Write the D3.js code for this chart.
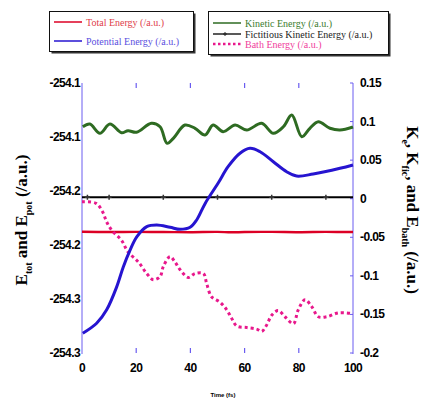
<!DOCTYPE html>
<html><head><meta charset="utf-8">
<script src="https://cdn.jsdelivr.net/npm/d3@7"></script>
<style>body{margin:0;background:#fff}svg{display:block}</style>
</head><body>
<svg id="c" width="421" height="401"></svg>
<script>
// ---- data ----
const xTicks = [0, 20, 40, 60, 80, 100];
const leftTicks = [-254.10, -254.14, -254.18, -254.22, -254.26, -254.30];
const leftTickLabels = ["-254.1", "-254.1", "-254.2", "-254.2", "-254.3", "-254.3"];
const rightTicks = [0.15, 0.1, 0.05, 0, -0.05, -0.1, -0.15, -0.2];
const rightTickLabels = ["0.15", "0.1", "0.05", "0", "-0.05", "-0.1", "-0.15", "-0.2"];

const totalT = [0, 10, 20, 30, 40, 50, 55, 60, 70, 80, 90, 100];
const totalE = [-254.2102, -254.2104, -254.2103, -254.2104, -254.2105, -254.2103, -254.2106, -254.2104, -254.2103, -254.2105, -254.2103, -254.2104];

const potT = [0.3, 5.4, 9.1, 12.8, 15.2, 17.7, 20.2, 23.9, 27.6, 32.5, 36.2, 39.9, 42.3, 45.5, 50.2, 53.9, 58.3, 62, 65.7, 70.6, 75.5, 79.2, 85.3, 95.2, 100];
const potE = [-254.2854, -254.278, -254.268, -254.251, -254.2365, -254.224, -254.214, -254.2064, -254.2052, -254.2069, -254.2084, -254.2069, -254.2015, -254.189, -254.1743, -254.162, -254.152, -254.1484, -254.1509, -254.1583, -254.1657, -254.1689, -254.1674, -254.1632, -254.1607];

const kinT = [0.3, 2.9, 6.6, 10.3, 14.6, 17, 20.1, 25.6, 28.8, 31.4, 33.7, 38, 41.7, 45.4, 48.4, 52.1, 56.5, 60.8, 66.3, 70.6, 74.3, 77.4, 81.1, 84.1, 87.2, 91.5, 95.2, 100];
const kinE = [0.0933, 0.0968, 0.0848, 0.0968, 0.0856, 0.0882, 0.0861, 0.0977, 0.0933, 0.0718, 0.0783, 0.0955, 0.0913, 0.0826, 0.0955, 0.0869, 0.0955, 0.0891, 0.0977, 0.0848, 0.0933, 0.1085, 0.0804, 0.0913, 0.0998, 0.0913, 0.0891, 0.093];

const ficT = [0, 2, 10, 20, 30, 40, 50, 60, 70, 80, 90, 100];
const ficE = [0.002, 0.002, 0.002, 0.002, 0.002, 0.002, 0.002, 0.002, 0.002, 0.002, 0.002, 0.002];
const ficMarkT = [2, 10, 30, 50, 70, 90];

const bathT = [0, 5.2, 7.6, 9.1, 11, 14.6, 17, 20.8, 23.9, 26.3, 28.8, 30, 32.5, 34.3, 36.2, 39.2, 41.7, 44.8, 46, 47.8, 50.9, 53.4, 55.2, 57.1, 60.8, 64.4, 66.3, 68.1, 70, 72.4, 74.9, 78, 79.8, 82.3, 84.8, 87.2, 90.3, 94.6, 100];
const bathE = [-0.004, -0.006, -0.017, -0.030, -0.041, -0.054, -0.069, -0.082, -0.097, -0.105, -0.101, -0.088, -0.075, -0.082, -0.092, -0.102, -0.097, -0.097, -0.110, -0.127, -0.134, -0.144, -0.155, -0.165, -0.167, -0.169, -0.172, -0.164, -0.151, -0.145, -0.153, -0.162, -0.144, -0.131, -0.140, -0.153, -0.153, -0.148, -0.149];

// ---- chart ----
const svg = d3.select("#c");
const X0 = 82, X1 = 353, Y0 = 83, Y1 = 353;
const x = d3.scaleLinear().domain([0, 100]).range([X0, X1]);
const yL = d3.scaleLinear().domain([-254.30, -254.10]).range([Y1, Y0]);
const yR = d3.scaleLinear().domain([-0.2, 0.15]).range([Y1, Y0]);
const axisCol = "#6a5cf0";

// axis lines
svg.append("line").attr("x1", X0).attr("x2", X0).attr("y1", Y0).attr("y2", Y1 + 1).attr("stroke", axisCol).attr("stroke-width", 1);
svg.append("line").attr("x1", X1).attr("x2", X1).attr("y1", Y0).attr("y2", Y1 + 1).attr("stroke", axisCol).attr("stroke-width", 1);

// x ticks (top and bottom, inward)
xTicks.slice(1, -1).forEach(t => {
  svg.append("line").attr("x1", x(t)).attr("x2", x(t)).attr("y1", Y0).attr("y2", Y0 + 5).attr("stroke", axisCol).attr("stroke-width", 1.2);
  svg.append("line").attr("x1", x(t)).attr("x2", x(t)).attr("y1", Y1 - 5).attr("y2", Y1).attr("stroke", axisCol).attr("stroke-width", 1.2);
});
// right-axis ticks
rightTicks.forEach(v => {
  svg.append("line").attr("x1", X1 - 3).attr("x2", X1).attr("y1", yR(v)).attr("y2", yR(v)).attr("stroke", axisCol).attr("stroke-width", 1);
});

const lblFont = "Liberation Sans, Arial, sans-serif";
// left tick labels
leftTicks.forEach((v, i) => {
  svg.append("text").attr("x", X0 - 2).attr("y", yL(v) + 4).attr("text-anchor", "end")
    .attr("font-family", lblFont).attr("font-weight", "bold").attr("font-size", 12).attr("letter-spacing", -0.6)
    .text(leftTickLabels[i]);
});
// right tick labels
rightTicks.forEach((v, i) => {
  svg.append("text").attr("x", X1 + 7).attr("y", yR(v) + 4).attr("text-anchor", "start")
    .attr("font-family", lblFont).attr("font-weight", "bold").attr("font-size", 12).attr("letter-spacing", -0.6)
    .text(rightTickLabels[i]);
});
// bottom tick labels
xTicks.forEach(t => {
  svg.append("text").attr("x", x(t)).attr("y", Y1 + 19).attr("text-anchor", "middle")
    .attr("font-family", lblFont).attr("font-weight", "bold").attr("font-size", 12).attr("letter-spacing", -0.6)
    .text(t);
});
// x title
svg.append("text").attr("x", 223).attr("y", 397).attr("text-anchor", "middle")
  .attr("font-family", lblFont).attr("font-weight", "bold").attr("font-size", 6).text("Time (fs)");

// left title
const lt = svg.append("text").attr("transform", "translate(27,220) rotate(-90)").attr("text-anchor", "middle")
  .attr("font-family", "Liberation Serif, Times New Roman, serif").attr("font-weight", "bold").attr("font-size", 17);
lt.append("tspan").text("E");
lt.append("tspan").attr("font-size", 10).attr("dy", 5).text("tot");
lt.append("tspan").attr("dy", -5).text(" and E");
lt.append("tspan").attr("font-size", 10).attr("dy", 5).text("pot");
lt.append("tspan").attr("dy", -5).text(" (/a.u.)");

// right title
const rt = svg.append("text").attr("transform", "translate(407,210) rotate(90)").attr("text-anchor", "middle")
  .attr("font-family", "Liberation Serif, Times New Roman, serif").attr("font-weight", "bold").attr("font-size", 17);
rt.append("tspan").text("K");
rt.append("tspan").attr("font-size", 10).attr("dy", 5).text("e");
rt.append("tspan").attr("dy", -5).text(", K");
rt.append("tspan").attr("font-size", 10).attr("dy", 5).text("fic");
rt.append("tspan").attr("dy", -5).text(", and E");
rt.append("tspan").attr("font-size", 10).attr("dy", 5).text("bath");
rt.append("tspan").attr("dy", -5).text(" (/a.u.)");

// series
const lineL = (T, V) => d3.line().x((d, i) => x(T[i])).y(d => yL(d)).curve(d3.curveCatmullRom)(V);
const lineR = (T, V) => d3.line().x((d, i) => x(T[i])).y(d => yR(d)).curve(d3.curveCatmullRom)(V);

svg.append("path").attr("d", lineR(ficT, ficE)).attr("fill", "none").attr("stroke", "#000").attr("stroke-width", 2);
ficMarkT.forEach(t => {
  svg.append("path").attr("d", `M${x(t) - 2.5},${yR(0.002)}h5M${x(t)},${yR(0.002) - 2.5}v5`).attr("stroke", "#333").attr("stroke-width", 1.5);
});
svg.append("path").attr("d", lineL(totalT, totalE)).attr("fill", "none").attr("stroke", "#dc0025").attr("stroke-width", 2.4);
svg.append("path").attr("d", lineR(kinT, kinE)).attr("fill", "none").attr("stroke", "#2e6b22").attr("stroke-width", 3);
svg.append("path").attr("d", lineR(bathT, bathE)).attr("fill", "none").attr("stroke", "#e8188c").attr("stroke-width", 3).attr("stroke-dasharray", "3,3");
svg.append("path").attr("d", lineL(potT, potE)).attr("fill", "none").attr("stroke", "#2614d0").attr("stroke-width", 3);

// legends
function box(x0, y0, w, h) {
  svg.append("rect").attr("x", x0 + 2).attr("y", y0 + 2).attr("width", w).attr("height", h).attr("fill", "#333");
  svg.append("rect").attr("x", x0).attr("y", y0).attr("width", w).attr("height", h).attr("fill", "#fff").attr("stroke", "#111").attr("stroke-width", 1);
}
box(49.5, 11.5, 144, 40);
box(208.5, 11.5, 180, 43);
const legFont = "Liberation Serif, Times New Roman, serif";
function legItem(x0, y0, col, txtCol, label, dash, marker) {
  const l = svg.append("line").attr("x1", x0).attr("x2", x0 + 28).attr("y1", y0).attr("y2", y0).attr("stroke", col).attr("stroke-width", dash ? 2.5 : 1.5);
  if (dash) l.attr("stroke-dasharray", "2.5,2.5");
  if (marker) svg.append("path").attr("d", `M${x0 + 12},${y0 - 2}v4M${x0 + 10},${y0}h4`).attr("stroke", col).attr("stroke-width", 1);
  svg.append("text").attr("x", x0 + 32).attr("y", y0 + 3.5).attr("font-family", legFont).attr("font-size", 10).attr("fill", txtCol).text(label);
}
legItem(54, 22, "#dc0025", "#e0404a", "Total Energy (/a.u.)");
legItem(54, 41, "#2614d0", "#5a4fe0", "Potential Energy (/a.u.)");
legItem(213, 23, "#2e6b22", "#3c7c2e", "Kinetic Energy (/a.u.)");
legItem(213, 34, "#222", "#222", "Fictitious Kinetic Energy (/a.u.)", false, true);
legItem(213, 44, "#e8188c", "#f0409c", "Bath Energy (/a.u.)", true);
</script>
</body></html>
